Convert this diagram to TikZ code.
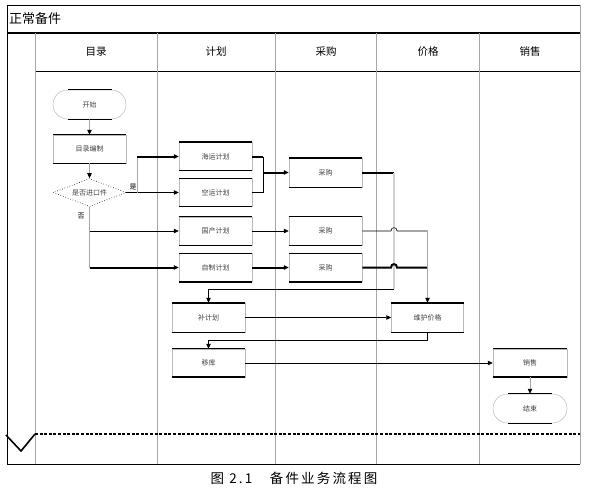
\documentclass[tikz,border=0pt]{standalone}
\usepackage{fontspec}
\setmainfont{Noto Sans CJK SC}
\usetikzlibrary{arrows.meta,shapes.geometric,shapes.misc}
\newcommand\bxl[3]{%
  \draw[line width=#2] (#1.north west) -- (#1.north east);
  \draw[line width=#3] (#1.south west) -- (#1.south east);}
\newcommand\trl[3]{%
  \draw[line width=#2] ([xshift=-22pt]#1.north) -- ([xshift=22pt]#1.north);
  \draw[line width=#3] ([xshift=-22pt]#1.south) -- ([xshift=22pt]#1.south);}
\begin{document}
\begin{tikzpicture}[x=1pt,y=-1pt,
 every node/.style={inner sep=0pt},
 lbl/.style={font=\fontsize{7}{8}\selectfont, text=black!75},
 box/.style={lbl, draw=gray!55, line width=0.5pt, minimum width=73pt, minimum height=28pt},
 term/.style={lbl, rounded rectangle, draw=gray!55, line width=0.5pt, minimum width=73pt, minimum height=29pt},
 dec/.style={lbl, diamond, draw=black, dotted, line width=0.6pt, aspect=2.6, minimum width=73pt, minimum height=28pt},
 hd/.style={font=\fontsize{10.5}{12}\selectfont},
 ln/.style={line width=0.6pt},
 tk/.style={line width=2pt},
 gl/.style={line width=0.6pt, draw=gray!70},
 arr/.style={-{Triangle[length=5pt,width=4.5pt]}},
 sep/.style={draw=gray!70, line width=0.6pt}
]
\useasboundingbox (0,0) rectangle (591,493);
% frame
\draw[ln] (7,464) -- (7,5) -- (580,5);
\draw[sep] (580,5) -- (580,464);
\draw[ln] (7,464) -- (580,464);
\draw[tk] (7,33) -- (580,33);
\draw[ln] (35,71) -- (580,71);
\foreach \x in {35,157,275,376,479} \draw[sep] (\x,33) -- (\x,464);
\draw[line width=2pt, dash pattern=on 3pt off 1.6pt] (35,434) -- (580,434);
\draw[line width=1.6pt] (6,435) -- (21,451) -- (35,434);
\node[anchor=west, font=\fontsize{13}{14}\selectfont] (title) at (9,19) {正常备件};
\node[hd] (h1) at (96,52) {目录};
\node[hd] (h2) at (216,52) {计划};
\node[hd] (h3) at (326,52) {采购};
\node[hd] (h4) at (428,52) {价格};
\node[hd] (h5) at (530,52) {销售};
\node[font=\fontsize{13.5}{14}\selectfont\addfontfeatures{LetterSpace=16}] (cap) at (294,478) {图 2.1\hspace{1.3em}备件业务流程图};
% nodes
\node[term] (ks) at (89.5,104.5) {开始};
\node[box] (bz) at (89.5,149) {目录编制};
\node[dec] (pd) at (89.5,192.5) {是否进口件};
\node[box] (hy) at (215.5,156.5) {海运计划};
\node[box] (ky) at (215.5,192.5) {空运计划};
\node[box] (gc) at (215.5,231) {国产计划};
\node[box] (zz) at (215.5,267.5) {自制计划};
\node[box, minimum height=29pt] (cg1) at (325.5,172.5) {采购};
\node[box, minimum height=29pt] (cg2) at (325.5,231) {采购};
\node[box] (cg3) at (325.5,267.5) {采购};
\node[box, minimum height=29pt] (bj) at (208.5,317.5) {补计划};
\node[box, minimum height=29pt, minimum width=72pt] (wh) at (427.5,317.5) {维护价格};
\node[box] (yk) at (208.5,363) {移库};
\node[box, minimum width=74pt] (xs) at (530,363) {销售};
\node[term, minimum width=74pt] (js) at (530,408.5) {结束};
\bxl{bz}{0.6pt}{0.6pt}
\bxl{hy}{2pt}{0.6pt}
\bxl{ky}{0.6pt}{0.6pt}
\bxl{gc}{0.6pt}{0.6pt}
\bxl{zz}{0.6pt}{2pt}
\bxl{cg1}{2pt}{0.6pt}
\bxl{cg2}{0.6pt}{0.6pt}
\bxl{cg3}{0.6pt}{2pt}
\bxl{bj}{2pt}{0.6pt}
\bxl{wh}{2pt}{0.6pt}
\bxl{yk}{0.6pt}{2pt}
\bxl{xs}{0.6pt}{2pt}
\trl{ks}{0.8pt}{0.8pt}
\trl{js}{0.8pt}{0.8pt}
\node[lbl, text=black] (yes) at (133,187) {是};
\node[lbl, text=black] (no) at (81,216) {否};
% connectors
\draw[gl] (ks) -- ([yshift=5pt]bz.north);
\draw[ln, arr] ([yshift=5pt]bz.north) -- (bz.north);
\draw[gl] (bz) -- ([yshift=5pt]pd.north);
\draw[ln, arr] ([yshift=5pt]pd.north) -- (pd.north);
\coordinate (ysb) at (137,192.5);
\draw[ln, arr] (pd.east) -- (pd.east -| ky.west);
\draw[gl] (ysb) -- (ysb |- hy.west);
\draw[tk, arr] (ysb |- hy.west) -- (hy.west);
\draw[gl] (pd.south) -- (pd.south |- zz.west);
\draw[ln, arr] (pd.south |- gc.west) -- (gc.west);
\draw[tk, arr] (pd.south |- zz.west) -- (zz.west);
\coordinate (mg) at (263,174);
\draw[tk] (hy.east) -- (hy.east -| mg);
\draw[ln] (ky.east) -- (ky.east -| mg);
\draw[ln] (hy.east -| mg) -- (ky.east -| mg);
\draw[tk, arr] (mg |- cg1.west) -- (cg1.west);
\draw[ln, arr] (gc.east) -- (cg2.west);
\draw[tk, arr] (zz.east) -- (cg3.west);
\coordinate (v1) at (394,289);
\draw[tk] (cg1.east) -- (cg1.east -| v1);
\draw[line width=1.4pt, gray!35] (cg1.east -| v1) -- (v1);
\draw[ln] (v1) -- (v1 -| bj.north);
\draw[ln, arr] (v1 -| bj.north) -- (bj.north);
\draw[ln] (cg2.east) -- (391,231) .. controls (391,226.5) and (397,226.5) .. (397,231) -- (cg2.east -| wh.north);
\draw[tk] (cg3.east) -- (391,267.5) .. controls (391,263) and (397,263) .. (397,267.5) -- (cg3.east -| wh.north);
\draw[gl] (cg2.east -| wh.north) -- ([yshift=5pt]wh.north);
\draw[ln, arr] ([yshift=5pt]wh.north) -- (wh.north);
\draw[ln, arr] (bj.east) -- (wh.west);
\coordinate (r2) at (427.5,340);
\draw[ln] (wh.south) -- (r2) -- (r2 -| yk.north);
\draw[ln, arr] (r2 -| yk.north) -- (yk.north);
\draw[ln, arr] (yk.east) -- (xs.west);
\draw[gl] (xs.south) -- ([yshift=5pt]js.north);
\draw[ln, arr] ([yshift=5pt]js.north) -- (js.north);
\end{tikzpicture}
\end{document}
